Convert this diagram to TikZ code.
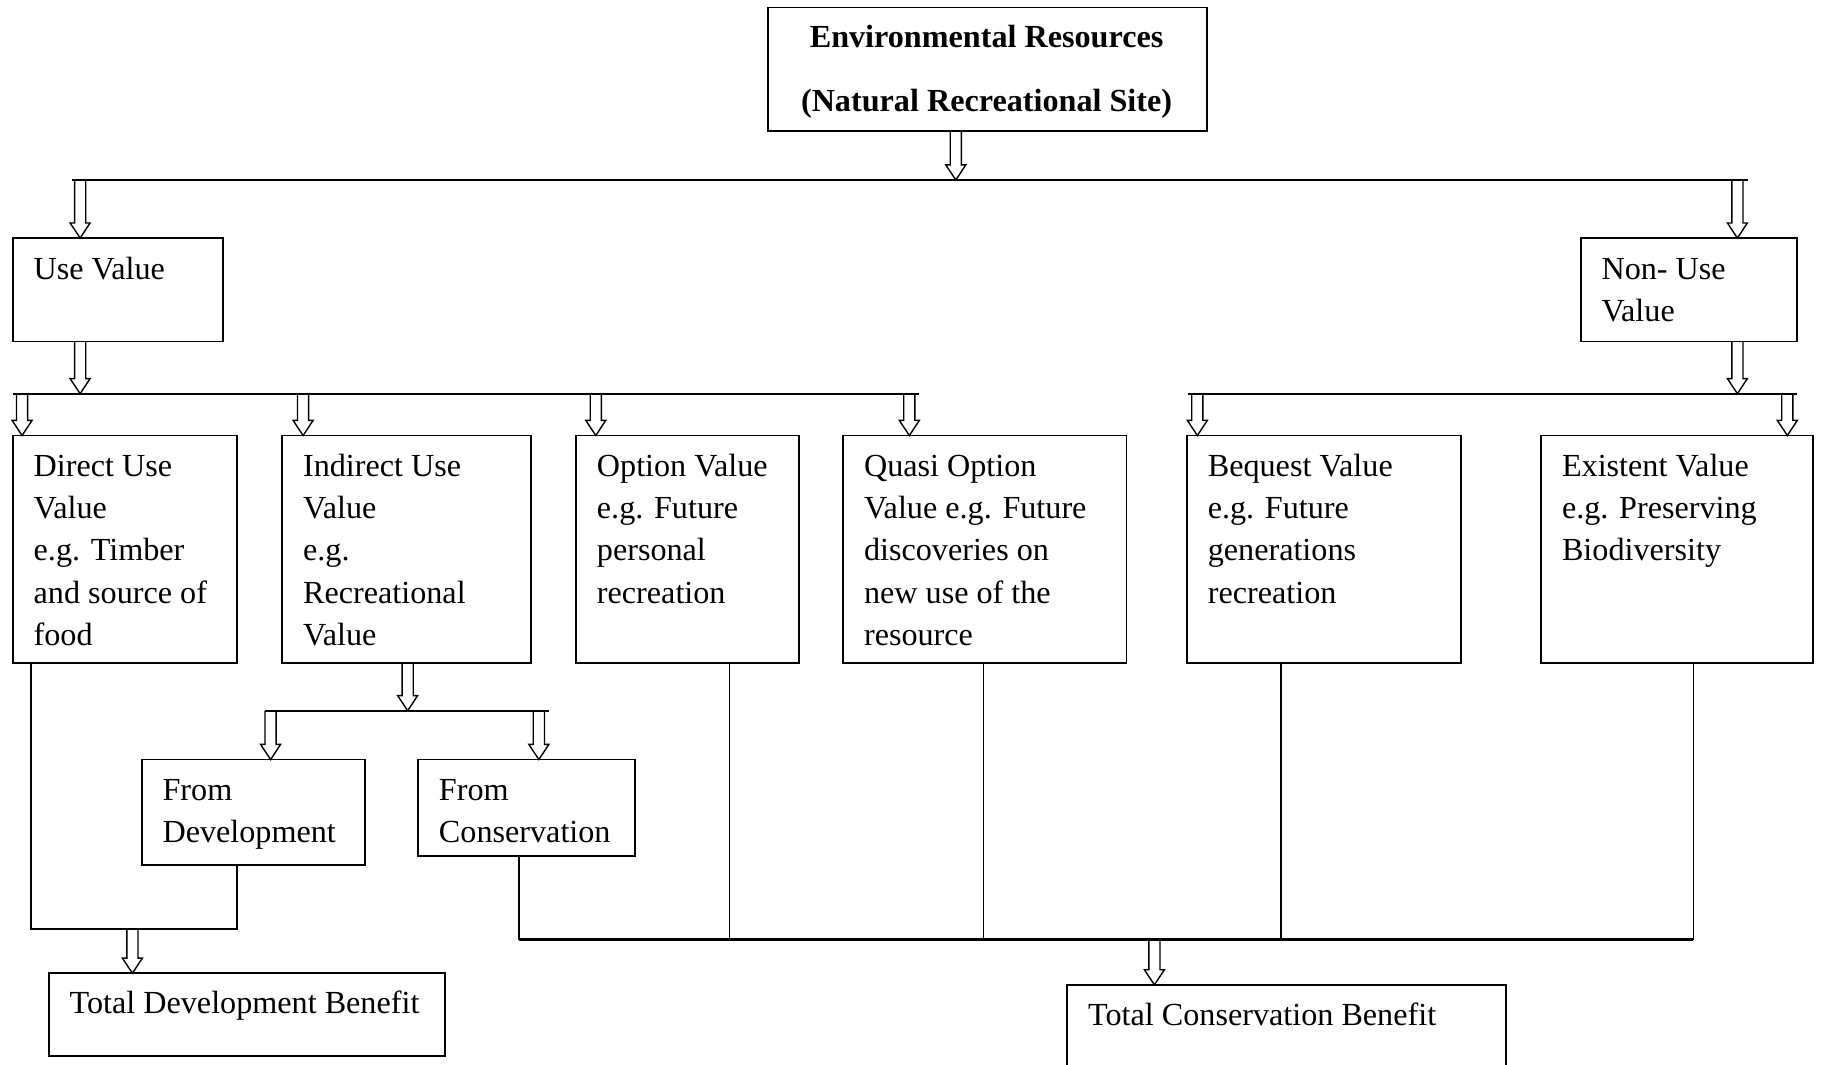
\documentclass[tikz,border=0pt]{standalone}
\usepackage{fontspec}
\setmainfont{Liberation Serif}
\usetikzlibrary{calc}
\newcommand{\ml}[1]{\begin{tabular}[t]{@{}l@{}}#1\end{tabular}}
\begin{document}
\begin{tikzpicture}[x=1pt,y=-1pt,
  box/.style={draw, line width=1.6pt, inner sep=0pt, outer sep=0pt, anchor=north west},
  txt/.style={inner sep=0pt, outer sep=0pt, anchor=base west, font=\fontsize{27.7}{36.5}\selectfont},
  bus/.style={line width=1.6pt},
  thinline/.style={line width=1.0pt},
  thickline/.style={line width=2.0pt},
  hollow/.style={draw, line width=1.2pt, line join=miter, to path={
    let \p1=(\tikztostart), \p2=(\tikztotarget) in
    ({\x1-4.8pt},{\y1}) -- ({\x1-4.8pt},{\y2+13pt}) -- ({\x1-8.6pt},{\y2+13pt}) -- ({\x1},{\y2})
    -- ({\x1+8.6pt},{\y2+13pt}) -- ({\x1+4.8pt},{\y2+13pt}) -- ({\x1+4.8pt},{\y1})}}
]
\useasboundingbox (0,0) rectangle (1568,917);
\clip (0,0) rectangle (1568,917);

% ---------- boxes ----------
\node[box, minimum width=378pt, minimum height=106pt] (env) at (661,6.5) {};
\node[box, minimum width=181pt, minimum height=89pt] (use) at (11,205) {};
\node[box, minimum width=186pt, minimum height=89pt] (nonuse) at (1361,205) {};
\node[box, minimum width=193pt, minimum height=196pt] (direct) at (11,375) {};
\node[box, minimum width=214pt, minimum height=196pt] (indirect) at (243,375) {};
\node[box, minimum width=192pt, minimum height=196pt] (option) at (496,375) {};
\node[box, minimum width=244pt, minimum height=196pt] (quasi) at (726,375) {};
\node[box, minimum width=236pt, minimum height=196pt] (bequest) at (1022,375) {};
\node[box, minimum width=234pt, minimum height=196pt] (existent) at (1327,375) {};
\node[box, minimum width=192pt, minimum height=91pt] (fromdev) at (122,654) {};
\node[box, minimum width=187pt, minimum height=83pt] (fromcons) at (360,654) {};
\node[box, minimum width=341pt, minimum height=71pt] (tdb) at (42,838) {};
\node[box, minimum width=378pt, minimum height=100pt] (tcb) at (919,848) {};

% ---------- texts ----------
\node[inner sep=0pt, anchor=base, font=\fontsize{27.7}{54.6}\selectfont\bfseries] (envt) at (849.5,41)
  {\begin{tabular}[t]{@{}c@{}}Environmental Resources\\(Natural Recreational Site)\end{tabular}};
\node[txt] (uset) at ($(use.north west)+(18,35.5)$) {\ml{Use Value}};
\node[txt] (nonuset) at ($(nonuse.north west)+(18,35.5)$) {\ml{Non- Use\\Value}};
\node[txt] (directt) at ($(direct.north west)+(18,35)$) {\ml{Direct Use\\Value\\e.g. Timber\\and source of\\food}};
\node[txt] (indirectt) at ($(indirect.north west)+(18,35)$) {\ml{Indirect Use\\Value\\e.g.\\Recreational\\Value}};
\node[txt] (optiont) at ($(option.north west)+(18,35)$) {\ml{Option Value\\e.g. Future\\personal\\recreation}};
\node[txt] (quasit) at ($(quasi.north west)+(18,35)$) {\ml{Quasi Option\\Value e.g. Future\\discoveries on\\new use of the\\resource}};
\node[txt] (bequestt) at ($(bequest.north west)+(18,35)$) {\ml{Bequest Value\\e.g. Future\\generations\\recreation}};
\node[txt] (existentt) at ($(existent.north west)+(18,35)$) {\ml{Existent Value\\e.g. Preserving\\Biodiversity}};
\node[txt] (fromdevt) at ($(fromdev.north west)+(18,35)$) {\ml{From\\Development}};
\node[txt] (fromconst) at ($(fromcons.north west)+(18,35)$) {\ml{From\\Conservation}};
\node[txt] (tdbt) at ($(tdb.north west)+(18,35)$) {\ml{Total Development Benefit}};
\node[txt] (tcbt) at ($(tcb.north west)+(18,35)$) {\ml{Total Conservation Benefit}};

% ---------- level 1 bus ----------
\coordinate (b1l) at (62,155);
\coordinate (b1r) at (1505,155);
\coordinate (b1m) at (823,155);
\coordinate (b1u) at (69,155);
\coordinate (b1n) at (1496,155);
\draw[bus] (b1l) -- (b1r);
\draw[hollow] (env.south -| b1m) to (b1m);
\draw[hollow] (b1u) to (b1u |- use.north);
\draw[hollow] (b1n) to (b1n |- nonuse.north);

% ---------- level 2 buses ----------
\coordinate (b2l) at (11,339);
\coordinate (b2r) at (791,339);
\coordinate (b2u) at (69,339);
\coordinate (b2a) at (19,339);
\coordinate (b2b) at (261,339);
\coordinate (b2c) at (513,339);
\coordinate (b2d) at (783,339);
\draw[bus] (b2l) -- (b2r);
\draw[hollow] (use.south -| b2u) to (b2u);
\draw[hollow] (b2a) to (b2a |- direct.north);
\draw[hollow] (b2b) to (b2b |- indirect.north);
\draw[hollow] (b2c) to (b2c |- option.north);
\draw[hollow] (b2d) to (b2d |- quasi.north);

\coordinate (b3l) at (1023,339);
\coordinate (b3r) at (1547,339);
\coordinate (b3n) at (1496,339);
\coordinate (b3a) at (1031,339);
\coordinate (b3b) at (1539,339);
\draw[bus] (b3l) -- (b3r);
\draw[hollow] (nonuse.south -| b3n) to (b3n);
\draw[hollow] (b3a) to (b3a |- bequest.north);
\draw[hollow] (b3b) to (b3b |- existent.north);

% ---------- indirect split ----------
\coordinate (b4l) at (228,612);
\coordinate (b4r) at (473,612);
\coordinate (b4m) at (351,612);
\coordinate (b4a) at (233,612);
\coordinate (b4b) at (464,612);
\draw[bus] (b4l) -- (b4r);
\draw[hollow] (indirect.south -| b4m) to (b4m);
\draw[hollow] (b4a) to (b4a |- fromdev.north);
\draw[hollow] (b4b) to (b4b |- fromcons.north);

% ---------- development total ----------
\coordinate (d1) at (27,800);
\coordinate (d2) at (204,800);
\coordinate (d3) at (114,800);
\draw[bus] (direct.south -| d1) -- (d1) -- (d2) -- (fromdev.south -| d2);
\draw[hollow] (d3) to (d3 |- tdb.north);

% ---------- conservation total ----------
\coordinate (c1) at (447,809);
\coordinate (c2) at (1458,809);
\coordinate (c3) at (628,809);
\coordinate (c4) at (847,809);
\coordinate (c5) at (1103,809);
\coordinate (c6) at (994,809);
\draw[bus] (fromcons.south -| c1) -- (c1);
\draw[thinline] (existent.south -| c2) -- (c2);
\draw[thickline] (c1) -- (c2);
\draw[thinline] (option.south -| c3) -- (c3);
\draw[thinline] (quasi.south -| c4) -- (c4);
\draw[thinline] (bequest.south -| c5) -- (c5);
\draw[hollow] (c6) to (c6 |- tcb.north);
\end{tikzpicture}
\end{document}
